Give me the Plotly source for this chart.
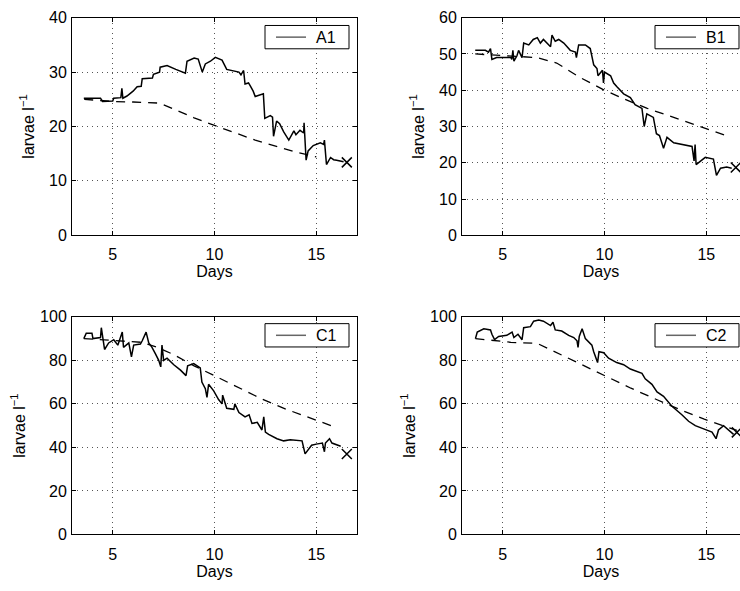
import plotly.graph_objects as go

# ---------------- data ----------------
A1_days = [3.58, 4.4, 4.5, 5.0, 5.05, 5.4, 5.45, 5.5, 5.7, 6.0, 6.2, 6.4, 6.45, 6.95, 7.0, 7.3, 7.33,
           7.67, 8.1, 8.57, 8.65, 9.0, 9.2, 9.4, 9.55, 9.8, 10.04, 10.37, 10.6, 10.95, 11.2, 11.3,
           11.43, 11.5, 11.67, 11.75, 11.9, 12.0, 12.4, 12.47, 12.74, 12.85, 12.9, 13.05, 13.2,
           13.4, 13.65, 13.9, 14.0, 14.2, 14.38, 14.4, 14.5, 14.6, 14.85, 15.2, 15.36, 15.4,
           15.5, 15.7, 15.85, 16.0, 16.34]
A1_vals = [25.2, 25.2, 24.6, 24.7, 25.2, 25.3, 27.0, 25.2, 25.6, 26.5, 27.3, 27.4, 28.8, 28.9,
           29.6, 30.0, 30.9, 31.2, 30.5, 29.8, 32.0, 32.6, 32.4, 30.0, 31.5, 32.0, 32.7, 32.2,
           30.5, 30.2, 30.0, 29.5, 30.3, 27.8, 28.0, 27.5, 26.5, 25.5, 26.0, 21.5, 22.0, 21.7,
           18.2, 21.0, 20.5, 19.0, 17.5, 19.2, 18.5, 19.3, 18.8, 20.7, 13.8, 15.5, 16.5, 17.0,
           16.7, 17.5, 13.0, 14.3, 13.9, 13.8, 13.5]
A1_model_days = [3.6, 5.0, 6.0, 7.3, 8.0, 9.0, 10.0, 11.0, 12.0, 13.0, 14.0, 15.0]
A1_model_vals = [25.0, 24.6, 24.5, 24.3, 23.2, 21.6, 20.2, 18.8, 17.5, 16.4, 15.3, 14.4]
A1_end = (16.5, 13.4)

B1_days = [3.65, 4.15, 4.3, 4.4, 4.47, 4.7, 5.4, 5.45, 5.5, 5.55, 5.7, 5.78, 5.95, 6.03, 6.28,
           6.5, 6.7, 6.85, 7.0, 7.35, 7.42, 7.58, 7.75, 8.0, 8.32, 8.57, 8.62, 8.73, 9.06, 9.3,
           9.47, 9.63, 9.68, 9.9, 9.95, 10.0, 10.3, 10.45, 10.6, 10.94, 11.27, 11.5, 11.84,
           11.95, 12.08, 12.4, 12.55, 12.7, 12.9, 13.07, 13.4, 13.9, 14.3, 14.4, 14.45, 14.5,
           14.7, 14.95, 15.35, 15.5, 15.7, 16.0, 16.25]
B1_vals = [51.0, 51.0, 50.5, 51.5, 48.5, 49.0, 49.0, 48.5, 51.0, 48.0, 49.5, 51.0, 49.0, 53.0,
           52.5, 54.0, 54.5, 53.0, 54.0, 52.0, 55.2, 53.5, 54.0, 53.0, 51.0, 50.5, 49.0, 52.5,
           52.5, 51.5, 47.0, 46.0, 44.0, 45.5, 42.0, 45.0, 44.0, 42.0, 41.0, 39.0, 38.0, 36.0,
           35.0, 30.0, 33.5, 32.5, 28.0, 27.5, 24.0, 27.0, 25.5, 25.0, 24.5, 20.5, 25.0, 19.5,
           20.5, 21.5, 21.0, 16.5, 18.5, 18.8, 18.5]
B1_model_days = [3.65, 5.4, 6.7, 7.65, 8.8, 10.0, 11.0, 12.1, 13.3, 14.5, 15.93]
B1_model_vals = [50.0, 49.5, 49.0, 47.5, 43.5, 40.0, 37.5, 35.0, 32.7, 30.5, 27.6]
B1_end = (16.45, 18.7)

C1_days = [3.58, 3.7, 3.98, 4.03, 4.4, 4.44, 4.6, 4.8, 5.05, 5.25, 5.47, 5.53, 5.79, 5.92, 6.03,
           6.36, 6.45, 6.64, 6.77, 6.93, 7.1, 7.26, 7.36, 7.42, 7.5, 7.67, 8.0, 8.33, 8.6, 8.68,
           8.98, 9.3, 9.38, 9.55, 9.63, 9.71, 9.96, 10.2, 10.37, 10.4, 10.6, 10.95, 11.0, 11.2,
           11.5, 11.7, 11.84, 12.1, 12.33, 12.42, 12.5, 12.66, 13.07, 13.4, 13.72, 14.3, 14.45,
           14.6, 14.77, 15.0, 15.3, 15.4, 15.45, 15.65, 15.77, 16.2]
C1_vals = [90.0, 92.5, 92.5, 90.0, 90.5, 95.0, 85.0, 88.0, 89.5, 87.0, 93.0, 86.0, 88.0, 81.6,
           87.0, 87.5, 89.0, 93.0, 88.0, 86.0, 83.0, 80.0, 77.0, 87.0, 80.0, 81.0, 78.0, 75.5,
           73.0, 77.5, 78.5, 76.5, 70.0, 67.0, 63.0, 69.0, 66.0, 62.0, 60.0, 64.0, 58.0, 57.5,
           60.0, 56.0, 54.0, 55.0, 51.0, 51.5, 48.0, 54.0, 47.0, 46.0, 44.0, 43.0, 43.5, 43.0,
           37.0, 39.0, 41.0, 41.5, 42.0, 38.0, 42.0, 44.0, 42.0, 40.5]
C1_model_days = [3.58, 5.0, 6.4, 7.2, 8.0, 9.0, 9.96, 11.0, 12.25, 13.5, 14.7, 15.85]
C1_model_vals = [90.0, 89.3, 88.3, 86.0, 82.6, 77.5, 73.0, 68.3, 62.6, 57.6, 53.5, 49.6]
C1_end = (16.5, 37.0)

C2_days = [3.66, 3.75, 4.07, 4.4, 4.47, 4.6, 4.8, 5.2, 5.46, 5.55, 5.75, 5.95, 6.03, 6.36,
           6.52, 6.77, 7.0, 7.35, 7.47, 7.58, 7.9, 8.24, 8.49, 8.65, 8.7, 8.76, 8.9, 9.06, 9.38,
           9.47, 9.66, 9.73, 9.96, 10.2, 10.6, 10.94, 11.27, 11.6, 11.84, 12.0, 12.33, 12.58,
           12.9, 13.3, 13.56, 13.8, 14.13, 14.46, 14.87, 15.28, 15.48, 15.6, 15.85, 16.1, 16.34]
C2_vals = [90.0, 93.0, 94.5, 94.0, 92.0, 89.5, 91.0, 91.5, 93.0, 90.5, 92.0, 89.5, 95.0, 95.5,
           98.0, 98.5, 98.0, 96.0, 97.5, 94.0, 93.5, 91.5, 90.5, 89.0, 86.0, 91.0, 94.5, 90.0,
           87.0, 84.0, 79.0, 84.0, 83.5, 81.0, 79.0, 78.0, 76.0, 75.0, 74.0, 71.5, 69.0, 65.5,
           63.5, 59.0, 57.0, 55.0, 52.0, 50.0, 48.5, 47.0, 44.0, 48.0, 50.0, 48.0, 46.0]
C2_model_days = [3.66, 5.4, 6.7, 7.35, 8.5, 10.0, 11.3, 12.58, 13.8, 14.9, 16.5]
C2_model_vals = [90.0, 88.3, 87.8, 84.9, 79.5, 73.0, 67.2, 61.9, 57.0, 53.0, 47.8]
C2_end = (16.5, 46.9)

panel_names = ["A1", "B1", "C1", "C2"]
x_tick_vals = [5, 10, 15]
y_ranges = [[0, 40], [0, 60], [0, 100], [0, 100]]
y_dticks = [10, 10, 20, 20]

# ---------------- layout geometry ----------------
W, H = 740, 591
FONT = "Liberation Sans, Arial, Helvetica, sans-serif"
FS = 16
x_doms = [[72 / W, 357 / W], [462 / W, 1.0]]
y_doms = [[1 - 234 / H, 1 - 10 / H], [1 - 542 / H, 1 - 318 / H]]
x_ranges = [[3, 17], [3, 3 + 278 / (285 / 14)]]
# legend boxes (pixel positions: left, top)
legend_boxes = [(265, 18), (655, 18), (265, 325), (655, 325)]
LEG_W, LEG_H = 84, 24

series = [
    (A1_days, A1_vals, A1_model_days, A1_model_vals, A1_end),
    (B1_days, B1_vals, B1_model_days, B1_model_vals, B1_end),
    (C1_days, C1_vals, C1_model_days, C1_model_vals, C1_end),
    (C2_days, C2_vals, C2_model_days, C2_model_vals, C2_end),
]

def px(x):
    return x / W

def py(y):
    return 1 - y / H

fig = go.Figure()
shapes, annotations = [], []
for i, (d, v, md, mv, end) in enumerate(series):
    row, col = divmod(i, 2)
    ax = "" if i == 0 else str(i + 1)
    xa, ya = "x" + ax, "y" + ax
    fig.add_trace(go.Scatter(x=md, y=mv, mode="lines", xaxis=xa, yaxis=ya,
                             line=dict(color="black", width=1.3, dash="9px,7px"),
                             showlegend=False, hoverinfo="skip"))
    fig.add_trace(go.Scatter(x=d, y=v, mode="lines", xaxis=xa, yaxis=ya,
                             line=dict(color="black", width=1.5),
                             name=panel_names[i], showlegend=False))
    fig.add_trace(go.Scatter(x=[end[0]], y=[end[1]], mode="markers", xaxis=xa, yaxis=ya,
                             marker=dict(symbol="x-thin", size=10,
                                         line=dict(color="black", width=1.5)),
                             showlegend=False))

    common = dict(showline=True, linecolor="black", linewidth=1,
                  ticks="inside", ticklen=4, tickcolor="black",
                  showgrid=True, gridcolor="#555555", gridwidth=1, griddash="1px,4px",
                  zeroline=False, tickfont=dict(family=FONT, size=FS, color="black"))
    fig.layout["xaxis" + ax] = dict(
        common, domain=x_doms[col], range=x_ranges[col], tickvals=x_tick_vals,
        anchor=ya, mirror="ticks", ticklabelstandoff=5,
        title=dict(text="Days", font=dict(family=FONT, size=FS, color="black"), standoff=0))
    fig.layout["yaxis" + ax] = dict(
        common, domain=y_doms[row], range=y_ranges[i], dtick=y_dticks[i], tick0=0,
        anchor=xa, mirror="ticks" if col == 0 else False, ticklabelstandoff=1,
        title=dict(text="larvae l<sup>\u22121</sup>",
                   font=dict(family=FONT, size=FS, color="black"), standoff=10))

    # legend box drawn per panel
    bl, bt = legend_boxes[i]
    shapes.append(dict(type="rect", xref="paper", yref="paper",
                       x0=px(bl), x1=px(bl + LEG_W), y0=py(bt + LEG_H), y1=py(bt),
                       line=dict(color="black", width=1), fillcolor="white", layer="above"))
    shapes.append(dict(type="line", xref="paper", yref="paper",
                       x0=px(bl + 11), x1=px(bl + 41), y0=py(bt + LEG_H / 2), y1=py(bt + LEG_H / 2),
                       line=dict(color="#666666", width=1.5), layer="above"))
    annotations.append(dict(xref="paper", yref="paper", x=px(bl + 49), y=py(bt + LEG_H / 2 + 0.5),
                            xanchor="left", yanchor="middle", showarrow=False,
                            text=panel_names[i],
                            font=dict(family=FONT, size=FS, color="black")))

fig.update_layout(width=W, height=H, margin=dict(l=0, r=0, t=0, b=0),
                  paper_bgcolor="white", plot_bgcolor="white", showlegend=False,
                  shapes=shapes, annotations=annotations,
                  font=dict(family=FONT, size=FS, color="black"))
fig.write_html("out.html")
